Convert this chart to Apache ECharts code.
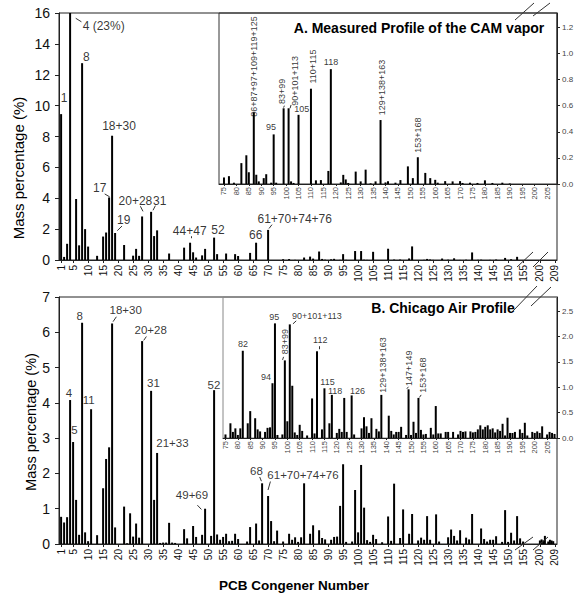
<!DOCTYPE html>
<html><head><meta charset="utf-8">
<script src="https://cdn.jsdelivr.net/npm/echarts@6/dist/echarts.min.js"></script>
<style>html,body{margin:0;padding:0;background:#fff}#c{width:584px;height:599px}</style>
</head><body><div id="c"></div>
<script>
// ---------------- DATA ----------------
// Panel A: Measured Profile of the CAM vapor (PCB congener -> mass %)
const aCong = [1,2,3,4,6,7,8,9,10, 13,15,16,17,18,19, 22,25,26,27,28, 31,32,33,37,
  42,44,45,46,48,49, 52,53,56,59,60,64,66,70, 75,77,79,82,84,85,87,88,89,
  91,92,94,95,96,99,101,102,103,105, 110,112,114,117,118,
  122,123,124,125,128,130,132,134,136,138, 140,141,144,146,149,151,153,
  156,158,160,161,164,167,170,171,174,177,180,183,187,190];
const aVal = [9.45,0.2,1.05,23,3.95,0.95,12.75,2.0,0.87, 0.27,1.52,1.78,4.05,8.05,1.75, 0.97,0.28,0.72,0.27,2.82, 3.12,1.55,1.92,0.42,
  0.8,1.12,0.5,0.16,0.3,0.72, 1.45,0.38,0.42,0.38,0.26,0.46,1.12,1.95, 0.05,0.06,0.01,0.16,0.22,0.09,0.55,0.07,0.02,
  0.045,0.075,0.01,0.38,0.01,0.58,0.58,0.02,0.008,0.53, 0.73,0.028,0.03,0.1,0.88,
  0.012,0.07,0.035,0.008,0.095,0.02,0.11,0.005,0.02,0.49, 0.012,0.022,0.01,0.03,0.135,0.045,0.205,
  0.085,0.045,0.032,0.01,0.022,0.02,0.022,0.008,0.01,0.008,0.028,0.008,0.01,0.004];

// Panel B: Chicago Air Profile
const bCong = [1,2,3,4,5,6,7,8,9,10, 11,13,15,16,17,18,19, 22,23,24,25,26,27,28,
  31,32,33,34,35,36,37,38,39, 42,43,45,46,48,49, 51,52,53,54,55,56,57,58,59,60,
  63,64,66,67,68,70,71,72,73, 75,77,78,79,80,81,82, 84,85,87,88,89, 91,92,93,94,95,96,
  98,99,100,101,102,103,104,105,106, 108,110,111,112, 114,115,117,118, 120,121,122,123,124, 126,127,
  130,131,132,133,134, 136,137,138, 141,142,143,144,145,146, 148,149,150,151,152,153,154,155,
  156,158,159,160,161,162, 164,165,167, 169,170,171,172,
  174,175,176,177,178,179,180,181,182,183,184,185,186,187,188,189,190,191,192,
  194,195,196,197, 199,200,201,202,203, 205,206,207,208];
const bVal = [0.77,0.61,0.76,4.08,2.89,1.25,0.26,6.27,0.33,0.08, 3.82,0.25,1.58,2.41,2.74,6.25,0.47, 1.06,0.02,0.87,0.21,0.58,0.18,5.75,
  4.34,1.25,2.58,0.03,0.04,0.04,0.6,0.04,0.03, 0.42,0.16,0.51,0.2,0.26,1.0, 0.23,4.36,0.27,0.12,0.2,0.29,0.08,0.09,0.29,0.14,
  0.07,0.48,0.58,0.1,1.72,1.36,0.65,0.08,0.38, 0.07,0.29,0.12,0.19,0.06,0.19,1.72, 0.29,0.53,0.39,0.17,0.13, 0.12,0.2,0.21,1.08,2.26,0.06,
  0.07,1.53,0.33,2.24,1.03,0.11,0.06,0.26,0.14, 0.05,0.78,0.09,1.71, 0.17,0.98,0.29,0.85, 0.1,0.18,0.12,0.79,0.12, 0.84,0.07,
  0.19,0.41,0.23,0.1,0.39, 0.18,0.13,0.85, 0.44,0.14,0.07,0.12,0.12,0.22, 0.06,0.96,0.06,0.32,0.1,0.79,0.16,0.07,
  0.08,0.2,0.07,0.63,0.09,0.09, 0.12,0.12,0.12, 0.07,0.14,0.12,0.13,
  0.13,0.11,0.12,0.17,0.25,0.17,0.22,0.25,0.17,0.19,0.11,0.17,0.14,0.28,0.05,0.4,0.1,0.1,0.12,
  0.17,0.1,0.3,0.05, 0.12,0.1,0.13,0.1,0.23, 0.07,0.12,0.1,0.08];

// Tick labels
const mainXTicks = [1,5,10,15,20,25,30,35,40,45,50,55,60,65,70,75,80,85,90,95,100,105,110,115,120,125,130,135,140,145,150,155,200,209];
const insetXTicks = [75,80,85,90,95,100,105,110,115,120,125,130,135,140,145,150,155,160,165,170,175,180,185,190,195,200,205];
const aInsetYTicks = [0,0.2,0.4,0.6,0.8,1.0,1.2];
const bInsetYTicks = [0,0.5,1.0,1.5,2.0,2.5];

// Annotations: [x (congener), y (mass %), text, rotation]
const aMainNotes = [[1.97,10.49,'1',0],[15.2,15.16,'4 (23%)',0],[9.43,13.17,'8',0],[20.3,8.69,'18+30',0],
  [13.87,4.67,'17',0],[21.87,2.62,'19',0],[25.77,3.8,'20+28',0],[33.87,3.85,'31',0],[43.87,1.91,'44+47',0],
  [53.3,1.93,'52',0],[65.87,1.63,'66',0],[78.87,2.66,'61+70+74+76',0]];
const aMainLeaders = [[[5.87,15.66],[7.77,15.43]],[[15.53,4.28],[17.2,4.09]],[[19.73,1.9],[21.3,2.2]],
  [[27.43,3.48],[28.3,3.15]],[[32.43,3.52],[31.63,3.22]],[[44.3,1.54],[44.3,1.41]],[[71.3,2.29],[70.3,2.04]]];
const aInsetNotes = [[87.2,0.9,'86+87+97+109+119+125',90],[93.9,0.44,'95',0],[98.5,0.71,'83+99',90],
  [103.6,0.79,'90+101+113',90],[106.3,0.575,'105',0],[110.95,0.9,'110+115',90],[118.07,0.933,'118',0],
  [138.5,0.74,'129+138+163',90],[153.2,0.375,'153+168',90]];
const aInsetLeaders = [[[99.3,0.6],[99.0,0.585]],[[102.0,0.606],[101.6,0.58]]];
const bMainNotes = [[7.2,6.45,'8',0],[22.53,6.64,'18+30',0],[30.87,6.07,'20+28',0],[3.63,4.29,'4',0],
  [5.43,3.23,'5',0],[10.2,4.08,'11',0],[31.77,4.55,'31',0],[38.1,2.85,'21+33',0],[44.63,1.39,'49+69',0],
  [51.97,4.5,'52',0],[66.1,2.07,'68',0],[81.63,1.95,'61+70+74+76',0]];
const bMainLeaders = [[[19.43,6.44],[18.3,6.3]],[[29.43,5.88],[28.53,5.77]],[[46.43,1.1],[47.77,0.98]],
  [[67.2,1.9],[67.77,1.78]],[[70.77,1.77],[69.97,1.53]]];
const bInsetNotes = [[82.08,1.85,'82',0],[94.7,2.38,'95',0],[91.37,1.2,'94',0],[99.16,1.9,'83+99',90],
  [111.96,2.4,'90+101+113',0],[113.3,1.93,'112',0],[116.25,1.11,'115',0],[119.35,0.92,'118',0],
  [128.4,0.92,'126',0],[138.87,1.44,'129+138+163',90],[149.36,1.375,'147+149',90],[155,1.24,'153+168',90]];
const bInsetLeaders = [[[98.48,1.6],[98.07,1.54]],[[103.6,2.31],[102.27,2.25]],[[112.77,1.81],[112.77,1.75]],
  [[148.96,1.01],[148.3,0.97]],[[154.1,0.85],[153.4,0.8]]];

// ---------------- CHART ----------------
const FONT = '"Liberation Sans", Arial, sans-serif';
// broken axis: 1..155 linear, then 200..209 compressed after the break
const BRK_LO = 155, BRK_HI = 200, BRK_POS = 160.6, BRK_SCALE = 0.555;
function pos(c){ return c <= BRK_LO ? c : BRK_POS + (c - BRK_HI) * BRK_SCALE; }
function unpos(p){ return p <= BRK_LO + 0.5 ? Math.round(p) : Math.round(BRK_HI + (p - BRK_POS) / BRK_SCALE); }
const mainTickPos = mainXTicks.map(pos);

function mainData(cong, val){
  const out = [];
  cong.forEach((c,i)=>{ if (c <= BRK_LO || c >= BRK_HI) out.push([pos(c), val[i]]); });
  return out;
}
function insetData(cong, val, lo){
  const out = [];
  cong.forEach((c,i)=>{ if (c >= lo) out.push([c, val[i]]); });
  return out;
}
function mapNotes(notes, isMain){
  return notes.map(n => ({value:[isMain ? pos(n[0]) : n[0], n[1]], name:n[2], label:{rotate:n[3]}}));
}
function mapLeaders(ls, isMain){
  return ls.map(l => [{coord:[isMain?pos(l[0][0]):l[0][0], l[0][1]]},{coord:[isMain?pos(l[1][0]):l[1][0], l[1][1]]}]);
}
function barSeries(data, xi, bw){
  return {type:'bar', xAxisIndex:xi, yAxisIndex:xi, data, barWidth:bw, itemStyle:{color:'#000'},
    silent:true, animation:false, clip:true};
}
function noteSeries(notes, leaders, xi, fs, isMain){
  return {type:'scatter', xAxisIndex:xi, yAxisIndex:xi, symbol:'circle', symbolSize:0, silent:true, clip:false, z:5,
    animation:false,
    data: mapNotes(notes, isMain),
    label:{show:true, position:'inside', formatter:'{b}', color:'#000', fontSize:fs, fontFamily:FONT},
    markLine:{silent:true, symbol:['none','none'], animation:false, label:{show:false},
      lineStyle:{color:'#000', width:0.8, type:'solid'},
      data: mapLeaders(leaders, isMain)}
  };
}
const axisLineStyle = {color:'#222', width:1};
function mainX(gi){
  return {gridIndex:gi, type:'value', min:0.3, max:166.3,
    axisLine:{show:true, onZero:false, lineStyle:axisLineStyle},
    axisTick:{show:true, length:3, customValues:mainTickPos, lineStyle:axisLineStyle},
    axisLabel:{customValues:mainTickPos, rotate:90, fontSize:10, margin:5, color:'#111', fontFamily:FONT,
      hideOverlap:false, formatter:(v)=>String(unpos(v))},
    splitLine:{show:false}};
}
function mainY(gi, max){
  return {gridIndex:gi, type:'value', min:0, max:max, interval: max > 10 ? 2 : 1,
    axisLine:{show:true, onZero:false, lineStyle:axisLineStyle},
    axisTick:{show:true, length:4, lineStyle:axisLineStyle},
    axisLabel:{fontSize:14, margin:9, color:'#111', fontFamily:FONT},
    splitLine:{show:false}};
}
function insetX(gi, min){
  return {gridIndex:gi, type:'value', min:min, max:209,
    axisLine:{show:true, onZero:false, lineStyle:axisLineStyle},
    axisTick:{show:true, length:2, customValues:insetXTicks, lineStyle:axisLineStyle},
    axisLabel:{customValues:insetXTicks, rotate:90, fontSize:7.5, margin:3, color:'#444', fontFamily:FONT, hideOverlap:false},
    splitLine:{show:false}};
}
function insetY(gi, max, ticks){
  return {gridIndex:gi, type:'value', position:'right', min:0, max:max,
    axisLine:{show:true, onZero:false, lineStyle:axisLineStyle},
    axisTick:{show:true, length:3, customValues:ticks, lineStyle:axisLineStyle},
    axisLabel:{customValues:ticks, fontSize:8, margin:5, color:'#444', fontFamily:FONT,
      formatter:(v)=>Number(v).toFixed(1)},
    splitLine:{show:false}};
}
function slash(x1,y1,x2,y2){
  return {type:'line', shape:{x1,y1,x2,y2}, style:{stroke:'#333', lineWidth:1}, silent:true, z:10};
}
function txt(x,y,text,font,rot){
  return {type:'text', x, y, rotation:rot||0, silent:true, z:10,
    style:{text, font, fill:'#000', align:'center', verticalAlign:'middle', textAlign:'center', textVerticalAlign:'middle'}};
}

const chart = echarts.init(document.getElementById('c'), null, {renderer:'svg', width:584, height:599});
chart.setOption({
  animation:false,
  backgroundColor:'#fff',
  grid:[
    {left:59, top:13, width:498, height:247, show:true, borderColor:'#222', borderWidth:1, backgroundColor:'transparent', outerBoundsMode:'none'},
    {left:219, top:13, width:338, height:171, show:true, borderColor:'#333', borderWidth:1, backgroundColor:'transparent', outerBoundsMode:'none'},
    {left:59, top:297, width:498, height:247, show:true, borderColor:'#222', borderWidth:1, backgroundColor:'transparent', outerBoundsMode:'none'},
    {left:223, top:297, width:334, height:141, show:true, borderColor:'#888', borderWidth:1, backgroundColor:'transparent', outerBoundsMode:'none'}
  ],
  xAxis:[mainX(0), insetX(1,73), mainX(2), insetX(3,74)],
  yAxis:[mainY(0,16), insetY(1,1.31,aInsetYTicks), mainY(2,7), insetY(3,2.78,bInsetYTicks)],
  series:[
    barSeries(mainData(aCong,aVal),0,2),
    barSeries(insetData(aCong,aVal,73),1,2),
    barSeries(mainData(bCong,bVal),2,2),
    barSeries(insetData(bCong,bVal,74),3,2),
    noteSeries(aMainNotes,aMainLeaders,0,12,true),
    noteSeries(aInsetNotes,aInsetLeaders,1,9,false),
    noteSeries(bMainNotes,bMainLeaders,2,11.5,true),
    noteSeries(bInsetNotes,bInsetLeaders,3,9,false)
  ],
  graphic:[
    txt(419,28,'A. Measured Profile of the CAM vapor','bold 14px '+FONT),
    txt(443,308,'B. Chicago Air Profile','bold 14px '+FONT),
    txt(294,585,'PCB Congener Number','bold 13.5px '+FONT),
    txt(18.5,168,'Mass percentage (%)','15px '+FONT, Math.PI/2),
    txt(31,422,'Mass percentage (%)','14.5px '+FONT, Math.PI/2),
    slash(515,20,534,3), slash(533,16,550,3),
    slash(517,267,533,252), slash(533,267,548,252),
    slash(513,311,537,286), slash(531,306,551,287),
    slash(515,550,533,537), slash(533,550,548,537)
  ]
});
</script></body></html>
